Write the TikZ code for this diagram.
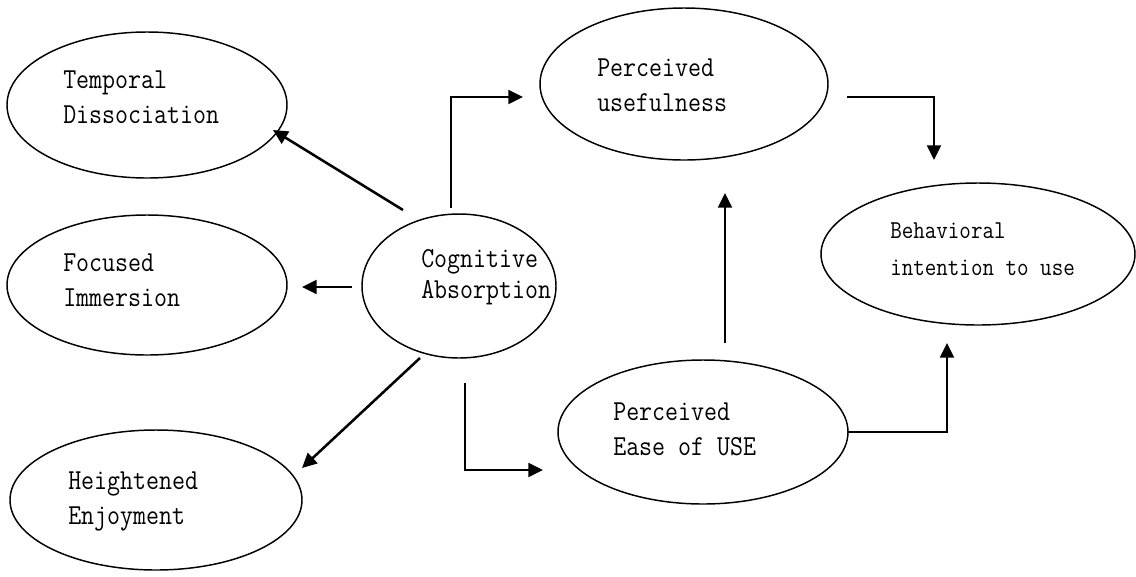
\documentclass[tikz,border=0pt]{standalone}
\usepackage{fontspec}
\usepackage{graphicx}
\newcommand\tallbox[1]{\scalebox{1}[1.15]{#1}}
\usetikzlibrary{shapes.geometric,arrows.meta}
\begin{document}
\begin{tikzpicture}[x=0.75pt,y=-0.75pt,
  oval/.style={ellipse,draw,line width=1.1pt,inner sep=0pt},
  lbl/.style={anchor=base west,inner sep=0pt,font=\ttfamily\fontsize{18.9}{23}\selectfont},
  lblsmall/.style={anchor=base west,inner sep=0pt,font=\ttfamily\fontsize{16.8}{21}\selectfont},
  conn/.style={line width=1.5pt,line join=miter,-{Triangle[length=11pt,width=10.5pt]}},
  diag/.style={conn,line width=1.9pt}]
\useasboundingbox[fill=white] (0,0) rectangle (1136,576);

% ellipses
\node[oval,minimum width=210pt,minimum height=109.5pt] (temp) at (147,105) {};
\node[oval,minimum width=210pt,minimum height=105pt] (focus) at (147,285) {};
\node[oval,minimum width=219pt,minimum height=105pt] (heig) at (156,500) {};
\node[oval,minimum width=145.5pt,minimum height=108pt] (cog) at (459,286) {};
\node[oval,minimum width=216pt,minimum height=114pt] (useful) at (684,84) {};
\node[oval,minimum width=217.5pt,minimum height=108pt] (ease) at (703,432) {};
\node[oval,minimum width=235.5pt,minimum height=106.5pt] (behav) at (978,254) {};

% labels
\node[lbl] (tempa) at (63,88) {\tallbox{Temporal}};
\node[lbl] (tempb) at (63,123) {\tallbox{Dissociation}};
\node[lbl] (focusa) at (63,271) {\tallbox{Focused}};
\node[lbl] (focusb) at (63,306) {\tallbox{Immersion}};
\node[lbl] (heiga) at (68,489) {\tallbox{Heightened}};
\node[lbl] (heigb) at (68,524) {\tallbox{Enjoyment}};
\node[lbl] (coga) at (421,267) {\tallbox{Cognitive}};
\node[lbl] (cogb) at (421,298) {\tallbox{Absorption}};
\node[lbl] (usefula) at (597,76) {\tallbox{Perceived}};
\node[lbl] (usefulb) at (597,111) {\tallbox{usefulness}};
\node[lbl] (easea) at (613,420) {\tallbox{Perceived}};
\node[lbl] (easeb) at (613,455) {\tallbox{Ease of USE}};
\node[lblsmall] (behava) at (890,238) {\tallbox{Behavioral}};
\node[lblsmall] (behavb) at (890,275) {\tallbox{intention to use}};

% connector ends
\coordinate (c1s) at (403,210); \coordinate (c1e) at (273,130);
\coordinate (c2s) at (352,287); \coordinate (c2e) at (302,287);
\coordinate (c3s) at (420,358); \coordinate (c3e) at (302,468);
\coordinate (c4s) at (451,208); \coordinate (c4e) at (523,97);
\coordinate (c5s) at (847,97);  \coordinate (c5e) at (934,160);
\coordinate (c6s) at (725,343); \coordinate (c6e) at (725,193);
\coordinate (c7s) at (848,432); \coordinate (c7e) at (947,343);
\coordinate (c8s) at (465,383); \coordinate (c8e) at (543,470);

\draw[diag] (c1s) -- (c1e);
\draw[conn] (c2s) -- (c2e);
\draw[diag] (c3s) -- (c3e);
\draw[conn] (c4s) |- (c4e);
\draw[conn] (c5s) -| (c5e);
\draw[conn] (c6s) -- (c6e);
\draw[conn] (c7s) -| (c7e);
\draw[conn] (c8s) |- (c8e);
\end{tikzpicture}
\end{document}
